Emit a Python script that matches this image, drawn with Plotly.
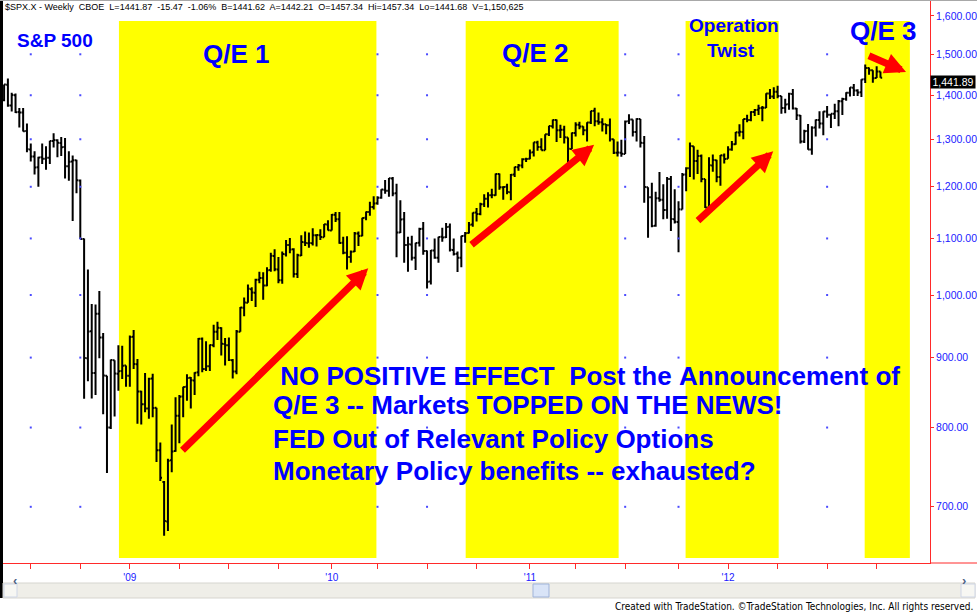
import numpy as np
import pandas as pd
import plotly.graph_objects as go

# $SPX.X weekly bars, first bar = week ending 2008-05-16 (rows ~ calendar chunks)
opens = [
    1388, 1425, 1376, 1400, 1361, 1360, 1318, 1278, 1263, 1240, 1261, 1258, 1260, 1296, 1298, 1292, 1283,
    1242, 1252, 1255, 1213, 1099, 899, 941, 877, 969, 931, 873, 800, 896, 876, 880, 888, 873,
    # 2009
    932, 890, 850, 832, 826, 869, 827, 770, 730, 683,
    757, 769, 816, 843, 857, 870, 866, 878, 929, 883,
    887, 919, 940, 946, 921, 919, 896, 879, 940, 979,
    987, 1010, 1004, 1026, 1029, 1016, 1043, 1068, 1044, 1025,
    1071, 1088, 1080, 1036, 1069, 1093, 1091, 1091, 1106, 1106,
    1102, 1126,
    # 2010
    1115, 1145, 1136, 1092, 1074, 1066, 1076, 1109, 1105, 1139,
    1150, 1160, 1167, 1178, 1194, 1192, 1217, 1187, 1111, 1136,
    1088, 1089, 1065, 1092, 1118, 1077, 1023, 1078, 1065, 1103,
    1102, 1122, 1079, 1072, 1065, 1105, 1110, 1126, 1149, 1146,
    1165, 1176, 1183, 1183, 1226, 1199, 1200, 1189, 1225, 1240,
    1244, 1257,
    # 2011
    1258, 1272, 1293, 1283, 1276, 1311, 1329, 1343, 1320, 1321,
    1304, 1279, 1314, 1332, 1328, 1320, 1337, 1364, 1340, 1338,
    1333, 1331, 1300, 1271, 1271, 1268, 1340, 1344, 1316, 1345,
    1292, 1199, 1179, 1124, 1177, 1174, 1154, 1216, 1136, 1131,
    1155, 1225, 1238, 1285, 1253, 1264, 1216, 1159, 1244, 1255,
    1220, 1265,
    # 2012
    1258, 1278, 1289, 1315, 1316, 1345, 1343, 1361, 1366, 1370,
    1371, 1404, 1397, 1408, 1398, 1370, 1379, 1403, 1369, 1353,
    1295, 1318, 1278, 1326, 1343, 1335, 1362, 1355, 1357, 1363,
    1386, 1391, 1406, 1418, 1411, 1407, 1438, 1466, 1460, 1441,
    1457.34,
]
highs = [
    1425.5, 1440.2, 1406, 1404, 1370, 1370, 1335, 1291, 1274, 1262, 1291, 1285, 1297, 1313, 1300, 1305, 1303,
    1274, 1265, 1256, 1215, 1100, 1044, 985, 984, 1007, 938, 873, 897, 896, 919, 918, 888, 934,
    943, 898, 851, 877, 870, 876, 827, 780, 731, 759,
    804, 842, 845, 857, 875, 871, 878, 930, 931, 925,
    920, 951, 956, 947, 930, 931, 898, 943, 980, 996,
    1018, 1013, 1028, 1040, 1039, 1048, 1074, 1080, 1066, 1076,
    1097, 1101, 1082, 1072, 1106, 1113, 1111, 1119, 1108, 1117,
    1127, 1134,
    1146, 1150, 1150, 1103, 1104, 1078, 1112, 1113, 1139, 1151,
    1170, 1181, 1181, 1195, 1214, 1218, 1219.8, 1206, 1173, 1150,
    1103, 1105, 1092, 1120, 1131, 1078, 1079, 1100, 1103, 1120,
    1129, 1128, 1100, 1076, 1105, 1112, 1131, 1149, 1158, 1168,
    1185, 1189, 1196, 1227, 1227, 1200, 1206, 1226, 1241, 1247,
    1259, 1260,
    1278, 1293.5, 1297, 1302, 1311, 1330, 1344, 1344, 1332, 1330,
    1304, 1315, 1338, 1339, 1329, 1338, 1364, 1371, 1360, 1347,
    1334, 1346, 1300, 1295, 1299, 1342, 1356, 1344, 1347, 1345,
    1307, 1199, 1208, 1190, 1230, 1205, 1220, 1222, 1195, 1171,
    1228, 1240, 1293, 1285, 1277, 1267, 1216, 1261, 1267, 1256,
    1266, 1269,
    1285, 1296, 1316, 1333, 1345, 1355, 1363, 1368, 1378, 1375,
    1405, 1415, 1419, 1422.4, 1398, 1392, 1406, 1415, 1370, 1354,
    1321, 1334, 1329, 1344, 1363, 1363, 1375, 1357, 1380, 1389,
    1394, 1407, 1419, 1426.7, 1414, 1438, 1474.5, 1467, 1460, 1470,
    1457.34,
]
lows = [
    1386, 1373, 1362, 1359, 1326, 1317, 1272, 1252, 1225, 1200, 1247, 1235, 1247, 1282, 1261, 1264, 1217,
    1212, 1133, 1187, 1099, 839.8, 865, 840, 845, 899, 818, 741, 798, 815, 851, 868, 857, 857,
    883, 805, 804, 821, 812, 814, 755, 731, 666.8, 672,
    742, 768, 779, 814, 837, 826, 845, 872, 878, 880,
    880, 916, 927, 903, 888, 895, 869, 875, 940, 965,
    987, 990, 980, 1020, 992, 1015, 1040, 1041, 1020, 1019,
    1067, 1073, 1030, 1029, 1068, 1086, 1083, 1087, 1085, 1097,
    1102, 1115,
    1115, 1131, 1090, 1071, 1044, 1056, 1075, 1086, 1104, 1134,
    1143, 1155, 1164, 1176, 1186, 1180, 1181, 1065.8, 1110, 1056,
    1040, 1060, 1043, 1085, 1070, 1010.9, 1018, 1063, 1056, 1094,
    1101, 1076, 1069, 1039.7, 1048, 1092, 1109, 1122, 1132, 1144,
    1160, 1159, 1177, 1182, 1194, 1174, 1185, 1173, 1220, 1233,
    1238, 1251,
    1257, 1263, 1275, 1276, 1276, 1307, 1324, 1294, 1303, 1291,
    1249, 1279, 1306, 1322, 1309, 1295, 1334, 1329, 1332, 1317,
    1311, 1295, 1268, 1263, 1262, 1268, 1334, 1306, 1295, 1282,
    1168, 1101.5, 1121, 1122, 1170, 1136, 1137, 1114, 1128, 1074.8,
    1155, 1191, 1220, 1215, 1226, 1209, 1158, 1159, 1231, 1209,
    1202, 1248,
    1258, 1275, 1288, 1306, 1300, 1338, 1340, 1352, 1354, 1340,
    1370, 1391, 1391, 1393, 1357, 1358, 1366, 1367, 1343, 1291,
    1292, 1277, 1266.7, 1306, 1324, 1309, 1348, 1325, 1345, 1329,
    1354, 1387, 1397, 1398, 1398, 1396, 1429, 1449, 1430, 1441,
    1441.68,
]
closes = [
    1425.4, 1375.9, 1400.4, 1360.7, 1360.0, 1317.9, 1278.4, 1262.9, 1239.5, 1260.7, 1257.8, 1260.3, 1296.3,
    1298.2, 1292.2, 1282.8, 1242.3, 1251.7, 1255.1, 1213.3, 1099.2, 899.2, 940.6, 876.8, 968.8, 931.0,
    873.3, 800.0, 896.2, 876.1, 879.7, 887.9, 872.8, 931.8,
    890.4, 850.1, 831.9, 825.9, 868.6, 826.8, 770.1, 735.1, 683.4, 756.6,
    768.5, 815.9, 842.5, 856.6, 869.6, 866.2, 877.5, 929.2, 882.9, 887.0,
    919.1, 940.1, 946.2, 921.2, 918.9, 896.4, 879.1, 940.4, 979.3, 987.5,
    1010.5, 1004.1, 1026.1, 1028.9, 1016.4, 1042.7, 1068.3, 1044.4, 1025.2, 1071.5,
    1087.7, 1079.6, 1036.2, 1069.3, 1093.5, 1091.4, 1091.5, 1106.0, 1106.4, 1102.5,
    1126.5, 1115.1,
    1145.0, 1136.0, 1091.8, 1073.9, 1066.2, 1075.5, 1109.2, 1104.5, 1138.7, 1150.0,
    1159.9, 1166.6, 1178.1, 1194.4, 1192.1, 1217.3, 1186.7, 1110.9, 1135.7, 1087.7,
    1089.4, 1064.9, 1091.6, 1117.5, 1076.8, 1022.6, 1078.0, 1064.9, 1102.7, 1101.6,
    1121.6, 1079.3, 1071.7, 1064.6, 1104.5, 1109.6, 1125.6, 1148.7, 1146.2, 1165.2,
    1176.2, 1183.1, 1183.3, 1225.9, 1199.2, 1199.7, 1189.4, 1224.7, 1240.4, 1243.9,
    1256.8, 1257.6,
    1271.5, 1293.2, 1283.4, 1276.3, 1310.9, 1329.2, 1343.0, 1319.9, 1321.2, 1304.3,
    1279.2, 1313.8, 1332.4, 1328.2, 1319.7, 1337.4, 1363.6, 1340.2, 1337.8, 1333.3,
    1331.1, 1300.2, 1271.0, 1271.5, 1268.5, 1339.7, 1343.8, 1316.1, 1345.0, 1292.3,
    1199.4, 1178.8, 1123.5, 1176.8, 1174.0, 1154.2, 1216.0, 1136.4, 1131.4, 1155.5,
    1224.6, 1238.3, 1285.1, 1253.2, 1263.9, 1215.7, 1158.7, 1244.3, 1255.2, 1219.7,
    1265.3, 1257.6,
    1277.8, 1289.1, 1315.4, 1316.3, 1344.9, 1342.6, 1361.2, 1365.7, 1369.6, 1370.9,
    1404.2, 1397.1, 1408.5, 1398.1, 1370.3, 1378.5, 1403.4, 1369.1, 1353.4, 1295.2,
    1317.8, 1278.0, 1325.7, 1342.8, 1335.0, 1362.2, 1354.7, 1356.8, 1362.7, 1386.0,
    1391.0, 1405.9, 1418.2, 1411.1, 1406.6, 1437.9, 1465.8, 1460.2, 1440.7, 1457.3,
    1441.87,
]
weeks = pd.date_range('2008-05-16', periods=len(closes), freq='W-FRI')

# shaded policy periods
band_names = ['Q/E 1', 'Q/E 2', 'Operation Twist', 'Q/E 3']
band_starts = ['2008-12-13', '2010-09-11', '2011-10-20', '2012-09-13']
band_ends = ['2010-03-31', '2011-06-19', '2012-04-08', '2012-12-05']

# red hand-drawn arrows (tail -> head)
arrow_tail_dates = ['2009-04-06', '2010-09-19', '2011-11-09', '2012-09-18']
arrow_tail_prices = [768, 1086, 1131, 1498]
arrow_head_dates = ['2010-03-16', '2011-05-05', '2012-03-29', '2012-11-28']
arrow_head_prices = [1046, 1288, 1274, 1456]

price_ticks = [700, 800, 900, 1000, 1100, 1200, 1300, 1400, 1500, 1600]
quarter_ticks = ['2008-07-04', '2008-10-03', '2009-01-02', '2009-04-03', '2009-07-03', '2009-10-02',
                 '2010-01-08', '2010-04-02', '2010-07-02', '2010-10-01', '2011-01-07', '2011-04-01',
                 '2011-07-01', '2011-10-07', '2012-01-06', '2012-04-06', '2012-07-06', '2012-10-05']
quarter_text = ['', '', "'09", '', '', '', "'10", '', '', '', "'11", '', '', '', "'12", '', '', '']

last_price = 1441.89
header = ('$SPX.X - Weekly  CBOE  L=1441.87  -15.47  -1.06%  B=1441.62  A=1442.21  '
          'O=1457.34  Hi=1457.34  Lo=1441.68  V=1,150,625')

BLUE = '#0000ff'
RED = '#ff2a2a'
W, H = 977, 614
L, R, T, B = 3, 47, 0, 51
PW, PH = W - L - R, H - T - B


def px(x):  # pixel -> paper x
    return (x - L) / PW


def py(y):  # pixel -> paper y
    return (H - B - y) / PH


fig = go.Figure()

# grid dots (hidden under yellow bands)
qd = pd.to_datetime(quarter_ticks)
gx, gy = [], []
for d in qd:
    inside = any(pd.Timestamp(s) <= d <= pd.Timestamp(e) for s, e in zip(band_starts, band_ends))
    if inside:
        continue
    for p in price_ticks[:-1]:
        gx.append(d)
        gy.append(p)
fig.add_trace(go.Scatter(x=gx, y=gy, mode='markers', hoverinfo='skip',
                         marker=dict(symbol='square', size=2, color='#4a4aff', line_width=0)))

fig.add_trace(go.Ohlc(
    x=weeks, open=opens, high=highs, low=lows, close=closes,
    increasing_line_color='black', decreasing_line_color='black',
    line_width=2, tickwidth=0.45, hoverinfo='skip'
))

for s, e in zip(band_starts, band_ends):
    fig.add_shape(type='rect', xref='x', yref='paper', x0=s, x1=e, y0=py(558), y1=py(21),
                  fillcolor='#ffff00', line_width=0, layer='below')

for td, tp, hd, hp in zip(arrow_tail_dates, arrow_tail_prices, arrow_head_dates, arrow_head_prices):
    fig.add_annotation(x=hd, y=np.log10(hp), ax=td, ay=np.log10(tp), xref='x', yref='y',
                       axref='x', ayref='y', text='', showarrow=True, arrowhead=2,
                       arrowsize=0.6, arrowwidth=7, arrowcolor='#ff0000')

# labels
def label(text, x, y, size, anchor='center'):
    fig.add_annotation(text=text, x=px(x), y=py(y), xref='paper', yref='paper', showarrow=False,
                       xanchor=anchor, yanchor='middle',
                       font=dict(size=size, color=BLUE, family='Liberation Sans, Arial, sans-serif'))


label('<b>S&P 500</b>', 15, 41, 19, 'left')
label('<b>Q/E 1</b>', 236, 54, 26)
label('<b>Q/E 2</b>', 535, 53, 26)
label('<b>Operation</b>', 734, 25, 19)
label('<b>Twist</b>', 731, 51, 19)
label('<b>Q/E 3</b>', 883, 31, 26)

lines = [' NO POSITIVE EFFECT  Post the Announcement of',
         'Q/E 3 -- Markets TOPPED ON THE NEWS!',
         'FED Out of Relevant Policy Options',
         'Monetary Policy benefits -- exhausted?']
for t, y in zip(lines, [376, 405, 439, 471]):
    label('<b>' + t.replace(' ', '&nbsp;') + '</b>', 271, y, 26, 'left')

fig.add_annotation(text=header.replace('  ', '&nbsp; '), x=px(3), y=py(7), xref='paper', yref='paper',
                   showarrow=False, xanchor='left', yanchor='middle',
                   font=dict(size=9, color='black', family='Liberation Sans, Arial, sans-serif'))

fig.add_annotation(text=f'{last_price:,.2f}', x=px(930), y=py(82), xref='paper', yref='paper',
                   showarrow=False, xanchor='left', yanchor='middle', bgcolor='black',
                   width=44, borderpad=0, align='center',
                   font=dict(size=10.5, color='white', family='Liberation Sans, Arial, sans-serif'))

# frame bits: left black edge, top gray line, red axis extension
fig.add_shape(type='line', xref='paper', yref='paper', x0=px(1.5), x1=px(1.5), y0=py(598), y1=py(0),
              line=dict(color='black', width=3))
fig.add_shape(type='line', xref='paper', yref='paper', x0=px(0), x1=px(977), y0=py(0.5), y1=py(0.5),
              line=dict(color='#a8a8a8', width=1))
fig.add_shape(type='line', xref='paper', yref='paper', x0=px(930), x1=px(977), y0=py(563), y1=py(563),
              line=dict(color=RED, width=1))

# scrollbar
fig.add_shape(type='rect', xref='paper', yref='paper', x0=px(3), x1=px(975), y0=py(598), y1=py(583),
              fillcolor='#efeee8', line=dict(color='#d6d5cf', width=1))
for a, b in [(4, 17), (961, 975)]:
    fig.add_shape(type='rect', xref='paper', yref='paper', x0=px(a), x1=px(b), y0=py(597), y1=py(584),
                  fillcolor='#f7f7f3', line=dict(color='#cfd6e6', width=1))
fig.add_shape(type='rect', xref='paper', yref='paper', x0=px(533), x1=px(549), y0=py(597), y1=py(584),
              fillcolor='#d9e4f7', line=dict(color='#9fb3d9', width=1))
for t, x in [('\u2039', 10.5), ('\u203a', 968)]:
    fig.add_annotation(text=f'<b>{t}</b>', x=px(x), y=py(590), xref='paper', yref='paper', showarrow=False,
                       font=dict(size=13, color='#4d6185'))

fig.add_annotation(text='Created with TradeStation. \u00a9TradeStation Technologies, Inc. All rights reserved.',
                   x=px(975), y=py(606), xref='paper', yref='paper', showarrow=False,
                   xanchor='right', yanchor='middle',
                   font=dict(size=10, color='black',
                             family='Liberation Sans Narrow, DejaVu Sans Condensed, sans-serif'))

fig.update_layout(
    width=W, height=H, margin=dict(l=L, r=R, t=T, b=B, autoexpand=False),
    paper_bgcolor='white', plot_bgcolor='white', showlegend=False,
    font=dict(family='Liberation Sans, Arial, sans-serif'),
    xaxis=dict(type='date', range=['2008-05-14', '2013-01-11'], showgrid=False, zeroline=False,
               showline=True, linecolor=RED, linewidth=1, ticks='outside', ticklen=5,
               tickcolor=RED, tickvals=quarter_ticks, ticktext=quarter_text, automargin=False,
               tickfont=dict(size=10, color='#2020ff'), rangeslider=dict(visible=False)),
    yaxis=dict(type='log', range=[2.8040, 3.2158], side='right', showgrid=False, zeroline=False,
               showline=True, linecolor=RED, linewidth=1, ticks='outside', ticklen=3,
               tickcolor=RED, tickvals=price_ticks, tickformat=',.2f', automargin=False,
               tickfont=dict(size=10.5, color='#2020ff')),
)

# the page's default 8px body margin would shift the whole figure
fig.write_html('out.html', config={'displayModeBar': False},
               post_script="document.body.style.margin='0px';")
